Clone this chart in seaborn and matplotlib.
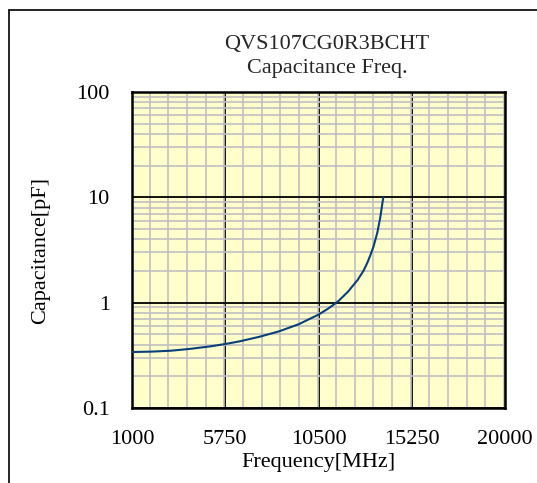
import numpy as np
import pandas as pd
import matplotlib
matplotlib.use("Agg")
import matplotlib.pyplot as plt
import matplotlib.ticker as mticker
from matplotlib.lines import Line2D
import seaborn as sns

# values
freq_mhz = [1000, 2000, 3000, 4000, 5000, 5750, 6500, 7500, 8500, 9500,
            10500, 11000, 11500, 12000, 12500, 12800, 13000, 13150, 13300,
            13500, 13650, 13800]
cap_pf = [0.34, 0.343, 0.35, 0.365, 0.385, 0.405, 0.43, 0.475, 0.535, 0.625,
          0.77, 0.88, 1.03, 1.27, 1.65, 2.02, 2.42, 2.85, 3.4,
          4.65, 6.5, 10.0]

x_ticks = [1000, 5750, 10500, 15250, 20000]
y_ticks = [0.1, 1, 10, 100]
y_tick_labels = ["0.1", "1", "10", "100"]

title_lines = ["QVS107CG0R3BCHT", "Capacitance Freq."]

df = pd.DataFrame({"Frequency": freq_mhz, "Capacitance": cap_pf})

sns.set_theme(style="white")
plt.rcParams["font.family"] = ["Liberation Serif", "DejaVu Serif"]

W, H = 537, 483
fig = plt.figure(figsize=(W / 100, H / 100), dpi=100)
fig.patch.set_facecolor("white")

left, right, top, bottom = 132, 505, 92, 408
ax = fig.add_axes([left / W, 1 - bottom / H, (right - left) / W, (bottom - top) / H])
ax.set_facecolor("#ffffcc")

sns.lineplot(data=df, x="Frequency", y="Capacitance", ax=ax,
             color="#0a3f7a", lw=1.5, zorder=5)

ax.set_yscale("log")
ax.set_xlim(1000, 20000)
ax.set_ylim(0.1, 100)

ax.xaxis.set_major_locator(mticker.FixedLocator(x_ticks))
ax.xaxis.set_minor_locator(mticker.MultipleLocator(950))
ax.set_xticklabels([str(t) for t in x_ticks])
ax.yaxis.set_major_locator(mticker.FixedLocator(y_ticks))
ax.yaxis.set_minor_locator(mticker.LogLocator(base=10, subs=np.arange(2, 10)))
ax.yaxis.set_minor_formatter(mticker.NullFormatter())
ax.set_yticklabels(y_tick_labels)

ax.grid(which="minor", color="#c0c0c0", lw=1.2, zorder=1)
ax.grid(which="major", color="black", lw=1.3, zorder=2)
ax.set_axisbelow(True)
ax.tick_params(which="both", length=0, labelsize=16, colors="black")
ax.tick_params(axis="x", pad=16)
ax.tick_params(axis="y", pad=16)

for s in ax.spines.values():
    s.set_color("black")
    s.set_linewidth(1.8)

ax.set_xlabel("Frequency[MHz]", fontsize=16, color="black", va="center")
ax.set_ylabel("Capacitance[pF]", fontsize=16, color="black", va="center")
ax.xaxis.set_label_coords(0.5, (bottom - 462) / (bottom - top))
ax.yaxis.set_label_coords((41 - left) / (right - left), 0.5)

cx = 327 / W
fig.text(cx, 1 - 44 / H, title_lines[0], ha="center", va="center", fontsize=16)
fig.text(cx, 1 - 68 / H, title_lines[1], ha="center", va="center", fontsize=16)

# outer frame (only left and top edges visible)
fig.add_artist(Line2D([9 / W, 9 / W], [0, 1 - 10 / H], transform=fig.transFigure,
                      color="black", lw=1.2))
fig.add_artist(Line2D([9 / W, 1], [1 - 10 / H, 1 - 10 / H], transform=fig.transFigure,
                      color="black", lw=1.2))

fig.savefig("out.png", dpi=100)
